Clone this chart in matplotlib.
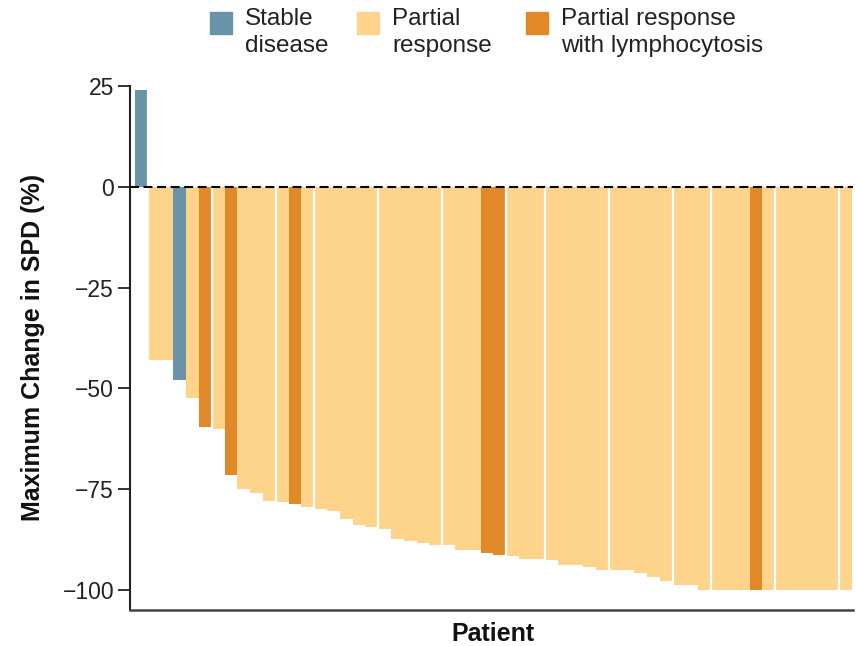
import matplotlib
matplotlib.use("Agg")
import matplotlib.pyplot as plt
from matplotlib.patches import Rectangle
import numpy as np

plt.rcParams['font.family'] = ['Liberation Sans', 'DejaVu Sans']

# maximum change in SPD per patient, sorted as in the waterfall
change = [24, -43, -43, -48, -52.5, -59.5, -60, -71.5, -75, -76,
          -78, -78.3, -78.8, -79.4, -80, -80.4, -82.3, -83.9, -84.4, -84.9,
          -87.3, -87.8, -88.4, -88.8, -88.8, -90.2, -90.2, -90.8, -91.3, -91.7,
          -92.3, -92.3, -92.7, -93.8, -93.8, -94.4, -95.2, -95.2, -95.2, -95.8,
          -96.7, -97.7, -98.8, -98.8, -100, -100, -100, -100, -100, -100,
          -100, -100, -100, -100, -100, -100]
# SD = stable disease, PR = partial response, PRL = PR with lymphocytosis
response = ['SD', 'PR', 'PR', 'SD', 'PR', 'PRL', 'PR', 'PRL', 'PR', 'PR',
            'PR', 'PR', 'PRL', 'PR', 'PR', 'PR', 'PR', 'PR', 'PR', 'PR',
            'PR', 'PR', 'PR', 'PR', 'PR', 'PR', 'PR', 'PRL', 'PRL', 'PR',
            'PR', 'PR', 'PR', 'PR', 'PR', 'PR', 'PR', 'PR', 'PR', 'PR',
            'PR', 'PR', 'PR', 'PR', 'PR', 'PR', 'PR', 'PR', 'PRL', 'PR',
            'PR', 'PR', 'PR', 'PR', 'PR', 'PR']
legend_labels = {'SD': 'Stable\ndisease',
                 'PR': 'Partial\nresponse',
                 'PRL': 'Partial response\nwith lymphocytosis'}

palette = {'SD': '#6893a8', 'PR': '#fed48c', 'PRL': '#e18828'}
# thin white gaps after these bars
breaks = [1, 6, 11, 14, 19, 24, 29, 32, 37, 42, 45, 50, 55]

W, H = 856, 646
fig = plt.figure(figsize=(W / 100, H / 100), dpi=100)
ax = fig.add_axes([130 / W, 1 - 610 / H, 723 / W, 524 / H])

x = np.arange(1, len(change) + 1)
ax.bar(x, change, width=1.0, color=[palette[r] for r in response],
       linewidth=0, zorder=2)

for n in breaks:
    a, b = change[n - 1], change[n]
    ax.vlines(n + 0.5, min(a, b, 0), max(a, b, 0), color='white', lw=1.6, zorder=3)

ax.axhline(0, color='black', lw=1.5, ls=(0, (4.3, 2.2)), zorder=4)

ax.set_xlim(0.11, 56.58)
ax.set_ylim(-105, 25)
ax.set_yticks([25, 0, -25, -50, -75, -100])
ax.set_xticks([])
ax.tick_params(axis='y', direction='out', length=9, width=1.3, pad=2.5,
               labelsize=16.5, color='#222222', labelcolor='#222222')
for side in ['top', 'right']:
    ax.spines[side].set_visible(False)
ax.spines['left'].set_linewidth(1.5)
ax.spines['left'].set_color('#222222')
ax.spines['bottom'].set_linewidth(1.8)
ax.spines['bottom'].set_color('#444444')

fig.text(33 / W, 1 - 347 / H, 'Maximum Change in SPD (%)', rotation=90,
         ha='center', va='center', fontsize=18, fontweight='bold', color='#111111')
fig.text(493 / W, 1 - 634 / H, 'Patient', ha='center', va='center',
         fontsize=18, fontweight='bold', color='#111111')

# legend across the top
for key, left in zip(['SD', 'PR', 'PRL'], [210, 357, 526]):
    fig.patches.append(Rectangle((left / W, 1 - 34 / H), 22 / W, 22 / H,
                                 transform=fig.transFigure, color=palette[key]))
    fig.text((left + 35) / W, 1 - 8 / H, legend_labels[key], ha='left', va='top',
             fontsize=17.5, linespacing=1.3, color='#222222')

fig.savefig('out.png', dpi=100)
